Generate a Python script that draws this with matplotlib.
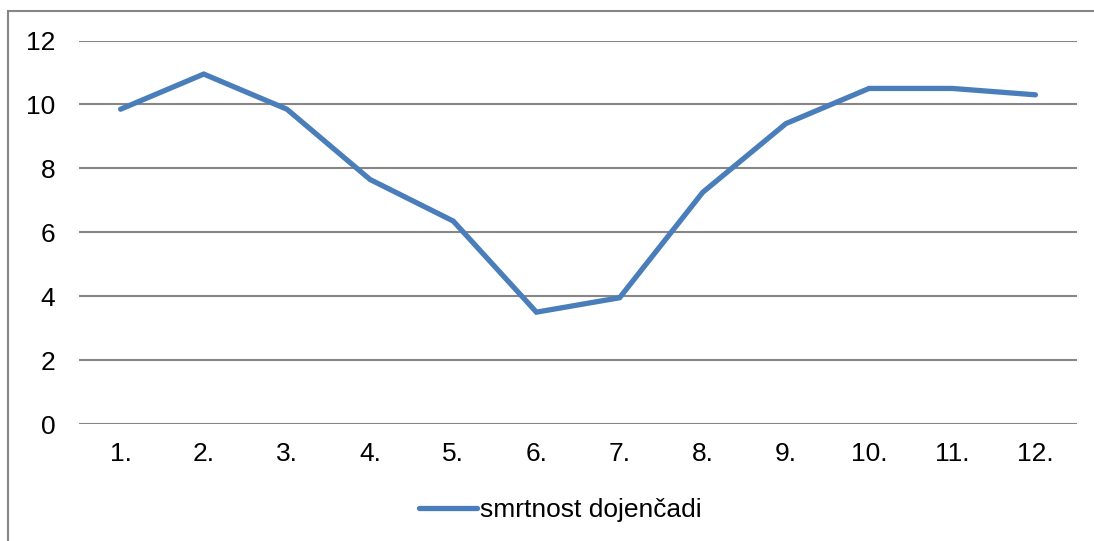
import matplotlib.pyplot as plt
from matplotlib.patches import Rectangle

months = ["1.", "2.", "3.", "4.", "5.", "6.", "7.", "8.", "9.", "10.", "11.", "12."]
mortality = [9.85, 10.95, 9.85, 7.65, 6.35, 3.5, 3.95, 7.25, 9.4, 10.5, 10.5, 10.3]

plt.rcParams['font.family'] = ['Liberation Sans', 'DejaVu Sans']

fig = plt.figure(figsize=(10.94, 5.41), dpi=100)
ax = fig.add_axes([79 / 1094, 1 - 424 / 541, 998 / 1094, (424 - 40.5) / 541])

# outer chart border (runs off the right and bottom edge)
fig.patches.append(Rectangle((8 / 1094, -0.1), 1.2, 1.1 - 11 / 541,
                             transform=fig.transFigure, fill=False,
                             edgecolor='#868686', linewidth=1.5))

x = list(range(1, len(months) + 1))
ax.plot(x, mortality, color='#4A7EBB', linewidth=3.8, solid_capstyle='round',
        solid_joinstyle='miter', label='smrtnost dojenčadi')

ax.set_xlim(0.5, 12.5)
ax.set_ylim(0, 12)
ax.set_yticks(range(0, 13, 2))
ax.set_xticks(x)
ax.set_xticklabels(months)
ax.yaxis.grid(True, color='#868686', linewidth=1.5)
ax.set_axisbelow(True)
for s in ax.spines.values():
    s.set_visible(False)
ax.tick_params(axis='y', length=0, pad=17, labelsize=19)
ax.tick_params(axis='x', length=0, pad=13, labelsize=19)

fig.legend(loc='center', bbox_to_anchor=(0.512, 0.057), frameon=False,
           fontsize=19, handlelength=2.2, handletextpad=0.1)

fig.savefig('out.png', dpi=100)
